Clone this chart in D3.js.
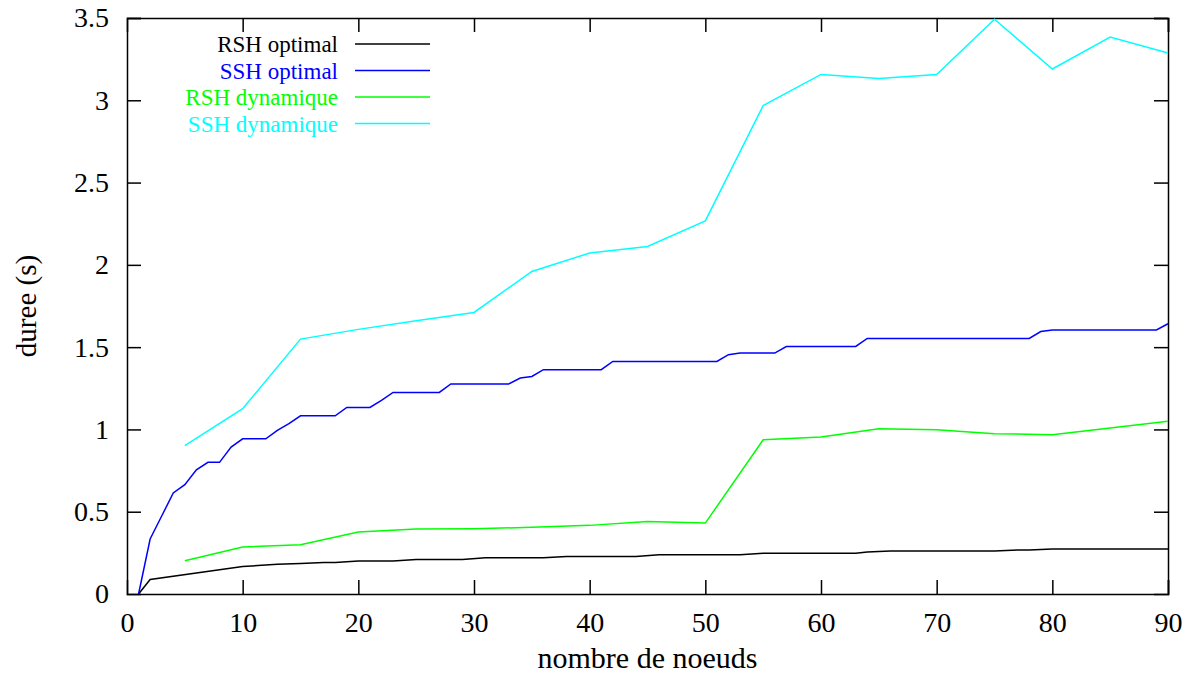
<!DOCTYPE html>
<html>
<head>
<meta charset="utf-8">
<script src="https://cdn.jsdelivr.net/npm/d3@7"></script>
<style>
  body { margin: 0; background: #fff; }
  svg { display: block; }
  svg text { font-family: "Liberation Serif", "Times New Roman", Times, "DejaVu Serif", serif; }
</style>
</head>
<body>
<div id="chart"></div>
<script>
// Durée de calcul selon le nombre de noeuds (4 courbes)
const W = 1190, H = 674;
const margin = { left: 127, right: 22, top: 18, bottom: 80 };
const TICK = 14;
const FONT = 28;

const xTicks = [0, 10, 20, 30, 40, 50, 60, 70, 80, 90];
const yTicks = [0, 0.5, 1, 1.5, 2, 2.5, 3, 3.5];

const rshOptimal = [
  [1, 0], [2, 0.088], [10, 0.167], [13, 0.181], [15, 0.185], [17, 0.192], [18, 0.192],
  [20, 0.2], [23, 0.2], [25, 0.21], [29, 0.21], [31, 0.22], [36, 0.22], [38, 0.228],
  [44, 0.228], [46, 0.238], [53, 0.238], [55, 0.248], [63, 0.248], [64, 0.255], [66, 0.262],
  [75, 0.262], [77, 0.268], [78, 0.268], [80, 0.273], [90, 0.273]
];
const sshOptimal = [
  [1, 0], [2, 0.334], [3, 0.474], [4, 0.614], [5, 0.664], [6, 0.755], [7, 0.8], [8, 0.8],
  [9, 0.893], [10, 0.943], [12, 0.943], [13, 0.994], [14, 1.035], [15, 1.083], [18, 1.083],
  [19, 1.134], [21, 1.134], [22, 1.176], [23, 1.225], [27, 1.225], [28, 1.276], [33, 1.276],
  [34, 1.312], [35, 1.322], [36, 1.363], [41, 1.363], [42, 1.413], [51, 1.413], [52, 1.454],
  [53, 1.464], [56, 1.464], [57, 1.504], [63, 1.504], [64, 1.553], [78, 1.553], [79, 1.595],
  [80, 1.604], [89, 1.604], [90, 1.642]
];
const rshDynamique = [
  [5, 0.202], [10, 0.285], [15, 0.3], [20, 0.377], [25, 0.395], [30, 0.397], [35, 0.405],
  [40, 0.417], [45, 0.441], [50, 0.431], [55, 0.937], [60, 0.954], [65, 1.004], [70, 0.998],
  [75, 0.974], [80, 0.968], [85, 1.008], [90, 1.049]
];
const sshDynamique = [
  [5, 0.901], [10, 1.126], [15, 1.549], [20, 1.608], [25, 1.66], [30, 1.711], [35, 1.96],
  [40, 2.072], [45, 2.112], [50, 2.267], [55, 2.968], [60, 3.157], [65, 3.133], [70, 3.157],
  [75, 3.493], [80, 3.19], [85, 3.384], [90, 3.287]
];

const series = [
  { name: 'RSH optimal', color: '#000000', values: rshOptimal },
  { name: 'SSH optimal', color: '#0000ff', values: sshOptimal },
  { name: 'RSH dynamique', color: '#00ff00', values: rshDynamique },
  { name: 'SSH dynamique', color: '#00ffff', values: sshDynamique },
];

const svg = d3.select('#chart').append('svg').attr('width', W).attr('height', H);

const x = d3.scaleLinear().domain([0, 90]).range([margin.left, W - margin.right]);
const y = d3.scaleLinear().domain([0, 3.5]).range([H - margin.bottom, margin.top]);

// axes, ticks pointing inward, mirrored on top and right
const fmt = d => String(d);
svg.append('g').attr('transform', `translate(0,${y(0)})`)
  .call(d3.axisBottom(x).tickValues(xTicks).tickSize(-TICK).tickPadding(18).tickFormat(fmt));
svg.append('g').attr('transform', `translate(0,${y(3.5)})`)
  .call(d3.axisTop(x).tickValues(xTicks).tickSize(-TICK).tickFormat(''));
svg.append('g').attr('transform', `translate(${x(0)},0)`)
  .call(d3.axisLeft(y).tickValues(yTicks).tickSize(-TICK).tickPadding(18).tickFormat(fmt));
svg.append('g').attr('transform', `translate(${x(90)},0)`)
  .call(d3.axisRight(y).tickValues(yTicks).tickSize(-TICK).tickFormat(''));

svg.selectAll('.domain').attr('stroke', '#000').attr('stroke-width', 1.5);
svg.selectAll('.tick line').attr('stroke', '#000').attr('stroke-width', 1.5);
svg.selectAll('.tick text').attr('font-size', FONT).attr('fill', '#000');
// the 0 ticks sit on the frame
svg.selectAll('.tick').filter(d => d === 0).select('line').attr('stroke', 'none');

svg.append('text').attr('x', (x(0) + x(90)) / 2).attr('y', 668)
  .attr('text-anchor', 'middle').attr('font-size', 30).text('nombre de noeuds');
svg.append('text').attr('transform', `translate(36,${y(1.75)}) rotate(-90)`)
  .attr('text-anchor', 'middle').attr('font-size', 29).text('duree (s)');

const line = d3.line().x(d => x(d[0])).y(d => y(d[1]));
svg.append('g').selectAll('path').data(series).join('path')
  .attr('d', d => line(d.values)).attr('fill', 'none')
  .attr('stroke', d => d.color).attr('stroke-width', 1.5);

// légende
const legend = svg.append('g');
series.forEach((s, i) => {
  const ly = 44 + i * 26.5;
  legend.append('text').attr('x', 338).attr('y', ly).attr('dy', '0.35em')
    .attr('text-anchor', 'end').attr('font-size', 23).attr('fill', s.color).text(s.name);
  legend.append('line').attr('x1', 355).attr('x2', 430).attr('y1', ly).attr('y2', ly)
    .attr('stroke', s.color).attr('stroke-width', 1.5);
});
</script>
</body>
</html>
